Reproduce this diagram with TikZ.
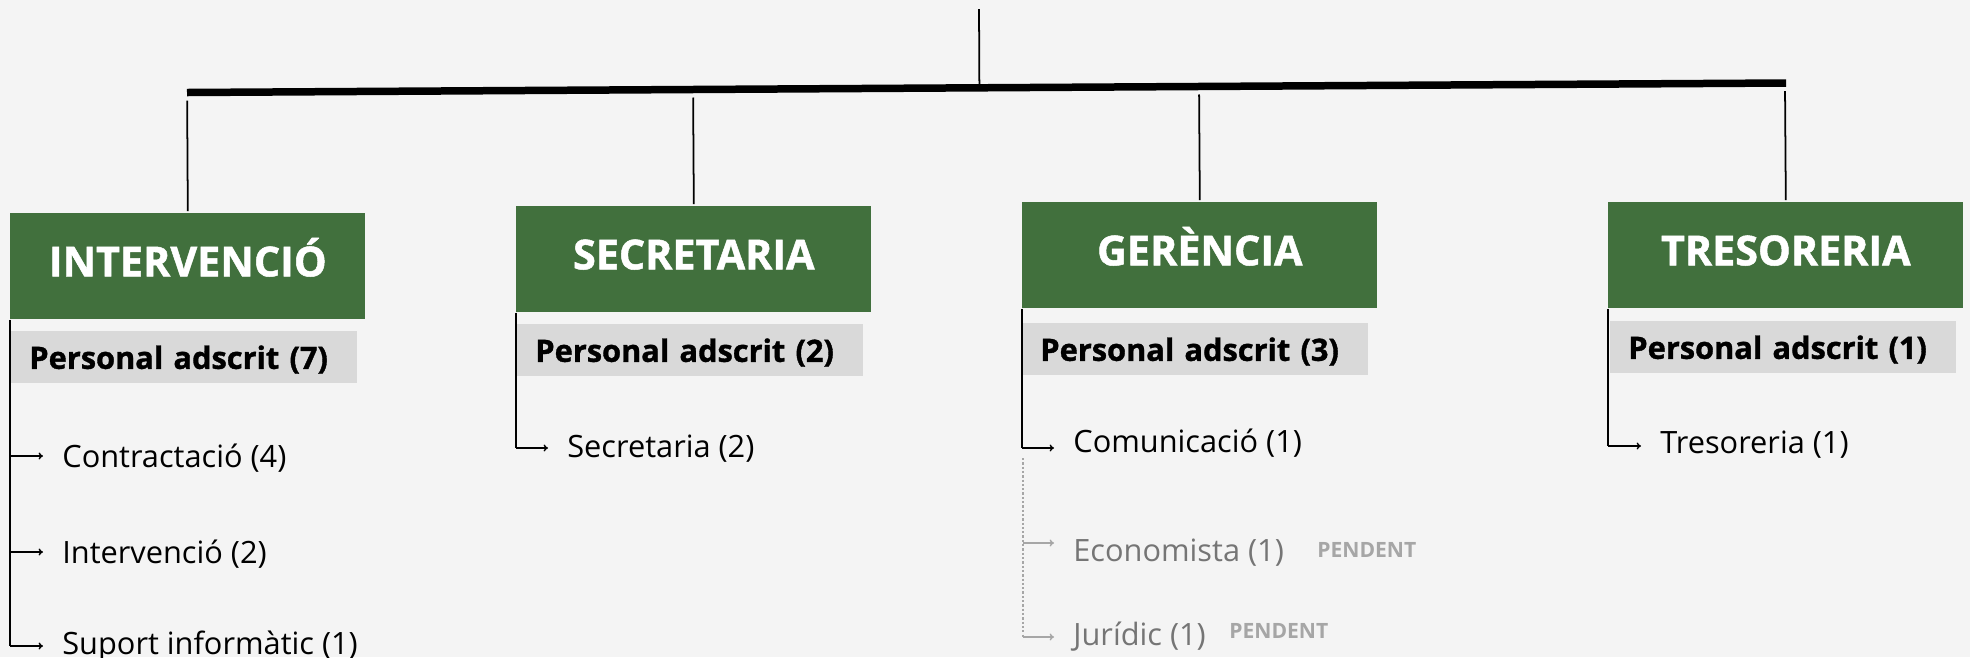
\documentclass[tikz,border=0pt]{standalone}
\usepackage{fontspec}
\setmainfont{Open Sans}
\newfontfamily\heavyfont[BoldFeatures={FakeBold=1.2}]{Open Sans}
\usetikzlibrary{arrows.meta,calc,positioning}
\definecolor{bgcol}{HTML}{F4F4F4}
\definecolor{hgreen}{HTML}{41703D}
\definecolor{pgray}{HTML}{D9D9D9}
\definecolor{pendgray}{HTML}{A6A6A6}
\definecolor{vacgray}{HTML}{757575}

\begin{document}
\begin{tikzpicture}[x=0.02cm,y=-0.02cm,
  head/.style={fill=hgreen,text=white,font=\fontsize{23.5}{28}\heavyfont\bfseries,
    minimum width=7.1cm,minimum height=2.12cm,text height=0.6cm,text depth=0.2cm,
    inner sep=0pt,anchor=north west},
  staff/.style={fill=pgray,font=\fontsize{17.5}{22}\heavyfont\bfseries,text width=6.2cm,
    align=left,inner xsep=0.36cm,inner ysep=0pt,minimum height=1.04cm,
    text height=0.46cm,text depth=0cm,anchor=north west},
  item/.style={font=\fontsize{17.5}{22}\selectfont,inner sep=0pt,anchor=base west},
  vac/.style={item,text=vacgray},
  pend/.style={font=\fontsize{12}{14}\selectfont\bfseries,text=pendgray,inner sep=0pt,anchor=base west},
  conn/.style={line width=1pt},
  arr/.style={line width=0.8pt,-{To[length=2.5pt,width=4pt]},shorten >=0.38cm},
  dotline/.style={draw=black!35,line width=1.3pt,dash pattern=on 1.3pt off 1.15pt}]
\fill[bgcol] (0,0) rectangle (1970,657);
\useasboundingbox (0,0) rectangle (1970,657);

\coordinate (barL) at (187,92.5);
\coordinate (barR) at (1786,83);
\coordinate (top) at (979,9);
\draw[line width=0.15cm] (barL) -- (barR);
\draw[conn] (top) -- ($(barL)!(top)!(barR)$);

\node[head] (h1) at (10,213) {INTERVENCIÓ};
\node[head] (h2) at (516,206) {SECRETARIA};
\node[head] (h3) at (1022,202) {GERÈNCIA};
\node[head] (h4) at (1608,202) {TRESORERIA};

\foreach \h in {h1,h2,h3,h4}
  \draw[conn,shorten <=0.16cm,shorten >=0.04cm] ($(barL)!(\h.north)!(barR)$) -- (\h.north);

\node[staff] (p1) at (11,331) {Personal adscrit (7)};
\node[staff] (p2) at (517,324) {Personal adscrit (2)};
\node[staff] (p3) at (1022,323) {Personal adscrit (3)};
\node[staff] (p4) at (1610,321) {Personal adscrit (1)};

\node[item] (i1) at (62,467) {Contractació (4)};
\node[item] (i2) at (62,563) {Intervenció (2)};
\node[item] (i3) at (62,654) {Suport informàtic (1)};
\node[item] (i4) at (567,457) {Secretaria (2)};
\node[item] (i5) at (1073,452) {Comunicació (1)};
\node[vac] (i6) at (1073,561) {Economista (1)};
\node[vac] (i7) at (1073,645) {Jurídic (1)};
\node[item] (i8) at (1660,453) {Tresoreria (1)};
\node[pend] (q6) at (1317,557) {PENDENT};
\node[pend] (q7) at (1229,638) {PENDENT};

\coordinate (a1) at (10,456);
\coordinate (a2) at (10,552);
\coordinate (a3) at (10,646);
\coordinate (a4) at (516,448);
\coordinate (a5) at (1022,448);
\coordinate (a6) at (1023,543);
\coordinate (a7) at (1023,637);
\coordinate (a8) at (1608,446);
\coordinate (d0) at (1023,458);

\draw[conn] (h1.south west) -- (a3);
\draw[conn] (h2.south west) -- (a4);
\draw[conn] (h3.south west) -- (a5);
\draw[conn] (h4.south west) -- (a8);
\draw[dotline] (d0) -- (a7);

\foreach \a/\i in {a1/i1,a2/i2,a3/i3,a4/i4,a5/i5,a8/i8}
  \draw[arr] (\a) -- (\a -| \i.west);
\foreach \a/\i in {a6/i6,a7/i7}
  \draw[arr,draw=pendgray] (\a) -- (\a -| \i.west);
\end{tikzpicture}
\end{document}
